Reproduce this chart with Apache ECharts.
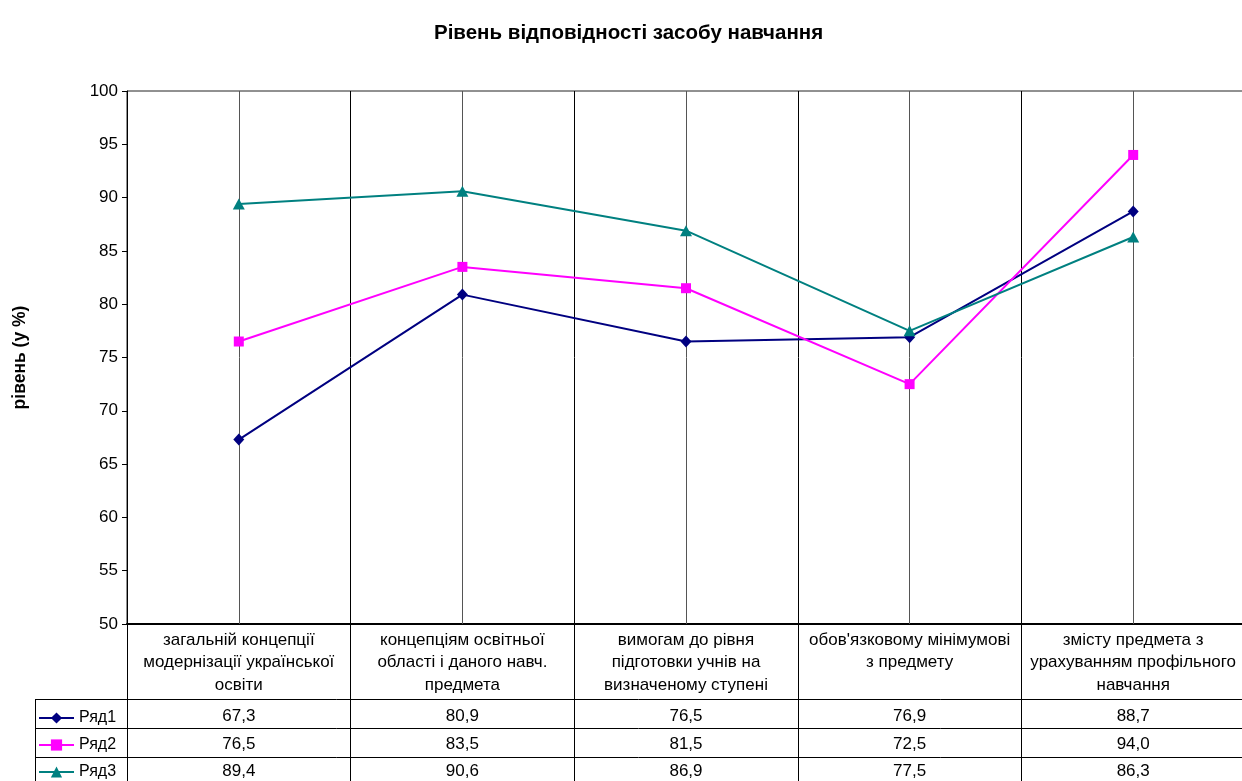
<!DOCTYPE html>
<html>
<head>
<meta charset="utf-8">
<script src="https://cdn.jsdelivr.net/npm/echarts@6/dist/echarts.min.js"></script>
<style>
html, body { margin: 0; padding: 0; background: #fff; }
#chart { width: 1242px; height: 781px; }
</style>
</head>
<body>
<div id="chart"></div>
<script>
// Categories (criteria) shown under the plot
const categories = [
  'загальній концепції\nмодернізації української\nосвіти',
  'концепціям освітньої\nобласті і даного навч.\nпредмета',
  'вимогам до рівня\nпідготовки учнів на\nвизначеному ступені',
  "обов'язковому мінімумові\nз предмету",
  'змісту предмета з\nурахуванням профільного\nнавчання'
];

// Series names and values, %
const seriesNames = ['Ряд1', 'Ряд2', 'Ряд3'];
const row1 = [67.3, 80.9, 76.5, 76.9, 88.7];
const row2 = [76.5, 83.5, 81.5, 72.5, 94.0];
const row3 = [89.4, 90.6, 86.9, 77.5, 86.3];

// Value axis range
const yMin = 50;
const yMax = 100;
const yStep = 5;

const FONT = "'Liberation Sans', Arial, sans-serif";
const colors = ['#000080', '#FF00FF', '#008080'];
const symbols = ['diamond', 'rect', 'triangle'];
const symbolSizes = [[11, 12], 10, [12, 11]];
const rows = [row1, row2, row3];

const fmt = v => v.toFixed(1).replace('.', ',');

const chart = echarts.init(document.getElementById('chart'), null, { renderer: 'canvas' });

// Data-table rows: hidden-line category axes stacked under the main axis
const tableRowOffsets = [84, 112, 139];
const tableAxes = rows.map((r, i) => ({
  type: 'category',
  gridIndex: 0,
  position: 'bottom',
  offset: tableRowOffsets[i],
  boundaryGap: true,
  data: r.map(fmt),
  axisLine: { show: false },
  axisTick: { show: false },
  splitLine: { show: false },
  axisLabel: { interval: 0, margin: 0, fontSize: 17, fontFamily: FONT, color: '#000' }
}));

const series = rows.map((r, i) => ({
  name: seriesNames[i],
  type: 'line',
  xAxisIndex: 0,
  data: r,
  symbol: symbols[i],
  symbolSize: symbolSizes[i],
  showAllSymbol: true,
  color: colors[i],
  lineStyle: { color: colors[i], width: 2 },
  itemStyle: { color: colors[i] },
  emphasis: { disabled: true },
  animation: false
}));

// Vertical guide lines through each category centre
series[0].markLine = {
  silent: true,
  z: 1,
  symbol: 'none',
  animation: false,
  label: { show: false },
  lineStyle: { color: '#555', width: 1, type: 'solid' },
  emphasis: { disabled: true },
  data: categories.map((c, i) => ({ xAxis: i }))
};

// One legend block per table row
const legendRowTops = [710, 737, 764];
const legends = seriesNames.map((n, i) => ({
  orient: 'vertical',
  left: 38,
  top: legendRowTops[i],
  padding: 0,
  itemWidth: 35,
  itemHeight: 14,
  selectedMode: false,
  textStyle: { fontFamily: FONT, fontSize: 16, color: '#000' },
  data: [n]
}));

const option = {
  backgroundColor: '#fff',
  animation: false,
  title: {
    text: 'Рівень відповідності засобу навчання',
    left: 429,
    top: 18,
    textStyle: { fontFamily: FONT, fontSize: 20.5, fontWeight: 'bold', color: '#000' }
  },
  legend: legends,
  grid: {
    left: 127,
    width: 1118,
    top: 91,
    height: 533,
    outerBoundsMode: 'none',
    show: true,
    borderColor: '#222',
    borderWidth: 1,
    backgroundColor: 'transparent'
  },
  xAxis: [{
    type: 'category',
    boundaryGap: true,
    data: categories,
    axisLine: { show: true, lineStyle: { color: '#000', width: 2 } },
    axisTick: { show: true, length: 170, lineStyle: { color: '#000', width: 1 } },
    splitLine: { show: true, lineStyle: { color: '#000', width: 1 } },
    axisLabel: {
      interval: 0,
      margin: 5,
      fontSize: 17,
      lineHeight: 22.5,
      fontFamily: FONT,
      color: '#000',
      align: 'center'
    }
  }].concat(tableAxes),
  yAxis: {
    type: 'value',
    min: yMin,
    max: yMax,
    interval: yStep,
    name: 'рівень (у %)',
    nameLocation: 'middle',
    nameRotate: 90,
    nameGap: 98,
    nameTextStyle: { fontFamily: FONT, fontSize: 17.5, fontWeight: 'bold', color: '#000' },
    axisLine: { show: true, lineStyle: { color: '#000', width: 1 } },
    axisTick: { show: true, length: 5, lineStyle: { color: '#000' } },
    splitLine: { show: false },
    axisLabel: { fontSize: 17, fontFamily: FONT, color: '#000', margin: 9 }
  },
  series: series,
  graphic: [
    // Table row rules and the left edge of the legend column
    { type: 'line', silent: true, z: 10, shape: { x1: 35, y1: 699.5, x2: 1242, y2: 699.5 }, style: { stroke: '#000', lineWidth: 1 } },
    { type: 'line', silent: true, z: 10, shape: { x1: 35, y1: 728.5, x2: 1242, y2: 728.5 }, style: { stroke: '#000', lineWidth: 1 } },
    { type: 'line', silent: true, z: 10, shape: { x1: 35, y1: 757.5, x2: 1242, y2: 757.5 }, style: { stroke: '#000', lineWidth: 1 } },
    { type: 'line', silent: true, z: 10, shape: { x1: 35.5, y1: 699, x2: 35.5, y2: 781 }, style: { stroke: '#000', lineWidth: 1 } }
  ]
};

chart.setOption(option);
</script>
</body>
</html>
